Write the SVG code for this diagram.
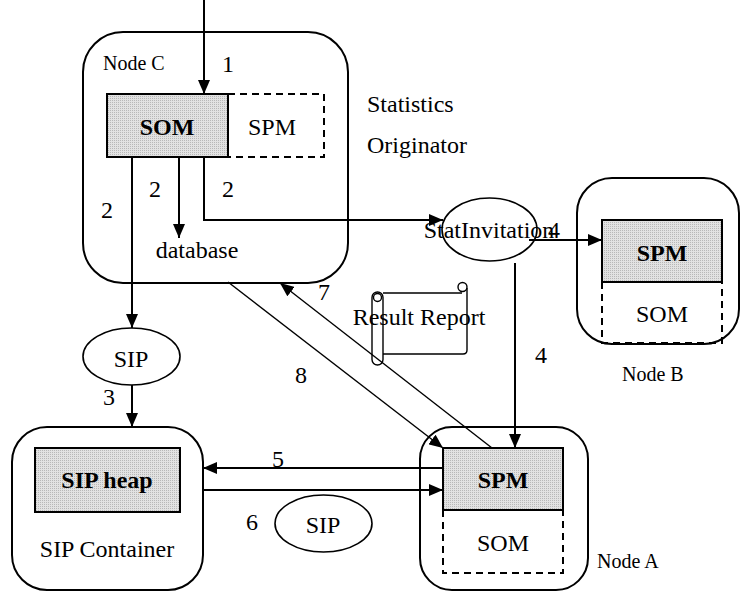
<svg xmlns="http://www.w3.org/2000/svg" width="741" height="592" viewBox="0 0 741 592">
  <style>
    .node { fill: none; stroke: #000; stroke-width: 2; }
    .box { fill: url(#stipple); stroke: #000; stroke-width: 2; }
    .dash { fill: none; stroke: #000; stroke-width: 2; stroke-dasharray: 7 5; }
    .wire { fill: none; stroke: #000; stroke-width: 2; }
    .thin { fill: none; stroke: #000; stroke-width: 1.4; }
    .oval { fill: #fff; stroke: #000; stroke-width: 1.6; }
    text { font-family: "Liberation Serif", "Times New Roman", serif; fill: #000; }
    .t { font-size: 24px; }
    .b { font-size: 24px; font-weight: bold; }
    .s { font-size: 20px; }
  </style>
  <defs>
    <pattern id="stipple" width="2" height="2" patternUnits="userSpaceOnUse">
      <rect width="2" height="2" fill="#e2e2e2"/>
      <rect width="1" height="1" fill="#b8b8b8"/>
    </pattern>
    <marker id="head" markerWidth="14" markerHeight="12" refX="14" refY="6" orient="auto" markerUnits="userSpaceOnUse">
      <path d="M0,0 L14,6 L0,12 Z" fill="#000"/>
    </marker>
  </defs>

  <rect width="741" height="592" fill="#fff"/>

  <!-- Node C: statistics originator -->
  <g id="node-c">
    <rect class="node" x="83" y="32" width="265" height="251" rx="40"/>
    <text class="s" x="103" y="70">Node C</text>
    <rect class="box" x="107" y="94" width="121" height="63"/>
    <rect class="dash" x="228" y="94" width="96" height="63"/>
    <text class="b" x="167" y="135" text-anchor="middle">SOM</text>
    <text class="t" x="272" y="135" text-anchor="middle">SPM</text>
    <text class="t" x="197" y="258" text-anchor="middle">database</text>
  </g>

  <g id="originator-label">
    <text class="t" x="367" y="112">Statistics</text>
    <text class="t" x="367" y="153">Originator</text>
  </g>

  <!-- Node B -->
  <g id="node-b">
    <rect class="node" x="577" y="178" width="162" height="166" rx="35"/>
    <rect class="box" x="602" y="220" width="120" height="62"/>
    <path class="dash" d="M602,282 V343 H722 V282"/>
    <text class="b" x="662" y="261" text-anchor="middle">SPM</text>
    <text class="t" x="662" y="322" text-anchor="middle">SOM</text>
    <text class="s" x="622" y="381">Node B</text>
  </g>

  <!-- Node A -->
  <g id="node-a">
    <rect class="node" x="420" y="427" width="168" height="163" rx="32"/>
    <rect class="box" x="443" y="448" width="120" height="62"/>
    <path class="dash" d="M443,510 V573 H563 V510"/>
    <text class="b" x="503" y="488" text-anchor="middle">SPM</text>
    <text class="t" x="503" y="551" text-anchor="middle">SOM</text>
    <text class="s" x="597" y="568">Node A</text>
  </g>

  <!-- SIP container -->
  <g id="sip-container">
    <rect class="node" x="12" y="427" width="191" height="163" rx="35"/>
    <rect class="box" x="35" y="448" width="145" height="64"/>
    <text class="b" x="107" y="488" text-anchor="middle">SIP heap</text>
    <text class="t" x="107" y="557" text-anchor="middle">SIP Container</text>
  </g>

  <!-- Messages -->
  <g id="stat-invitation">
    <ellipse class="oval" cx="489.5" cy="229.5" rx="47.5" ry="31.5" fill="none"/>
  </g>
  <g id="sip-upper">
    <ellipse class="oval" cx="131.5" cy="356.5" rx="48.5" ry="28.5"/>
    <text class="t" x="131" y="367" text-anchor="middle">SIP</text>
  </g>
  <g id="sip-lower">
    <ellipse class="oval" cx="323.5" cy="523.5" rx="48.5" ry="28.5"/>
    <text class="t" x="323" y="533" text-anchor="middle">SIP</text>
  </g>

  <!-- Connectors -->
  <g id="connectors">
    <line class="wire" x1="204" y1="0" x2="204" y2="94" marker-end="url(#head)"/>
    <line class="wire" x1="179" y1="157" x2="179" y2="238" marker-end="url(#head)"/>
    <line class="wire" x1="132" y1="157" x2="132" y2="328" marker-end="url(#head)"/>
    <path class="wire" d="M204,157 V220 H443" marker-end="url(#head)"/>
    <line class="wire" x1="529" y1="240" x2="602" y2="240" marker-end="url(#head)"/>
    <line class="wire" x1="515" y1="263" x2="515" y2="448" marker-end="url(#head)"/>
    <line class="wire" x1="132" y1="385" x2="132" y2="427" marker-end="url(#head)"/>
    <line class="wire" x1="443" y1="468" x2="203" y2="468" marker-end="url(#head)"/>
    <line class="wire" x1="203" y1="490" x2="443" y2="490" marker-end="url(#head)"/>
    <line class="thin" x1="228" y1="282" x2="443" y2="448" marker-end="url(#head)"/>
    <line class="thin" x1="492" y1="448" x2="280" y2="283" marker-end="url(#head)"/>
  </g>

  <!-- Result report scroll -->
  <g id="result-report">
    <path class="thin" fill="#fff" d="M383,293 H462 M467,288 V350 Q467,354 463,354 H383"/>
    <circle class="thin" cx="462.5" cy="287" r="4.5"/>
    <rect class="thin" x="372" y="292" width="11" height="73" rx="5.5"/>
    <circle class="thin" cx="377.5" cy="297.5" r="4"/>
    <text class="t" x="419" y="325" text-anchor="middle">Result Report</text>
  </g>

  <!-- Labels drawn over the message ovals -->
  <g id="labels">
    <text class="t" x="489" y="238" text-anchor="middle">StatInvitation</text>
    <text class="t" x="222" y="72">1</text>
    <text class="t" x="101" y="218">2</text>
    <text class="t" x="149" y="197">2</text>
    <text class="t" x="222" y="197">2</text>
    <text class="t" x="103" y="405">3</text>
    <text class="t" x="548" y="238">4</text>
    <text class="t" x="535" y="363">4</text>
    <text class="t" x="272" y="467">5</text>
    <text class="t" x="246" y="530">6</text>
    <text class="t" x="318" y="300">7</text>
    <text class="t" x="295" y="383">8</text>
  </g>
</svg>
